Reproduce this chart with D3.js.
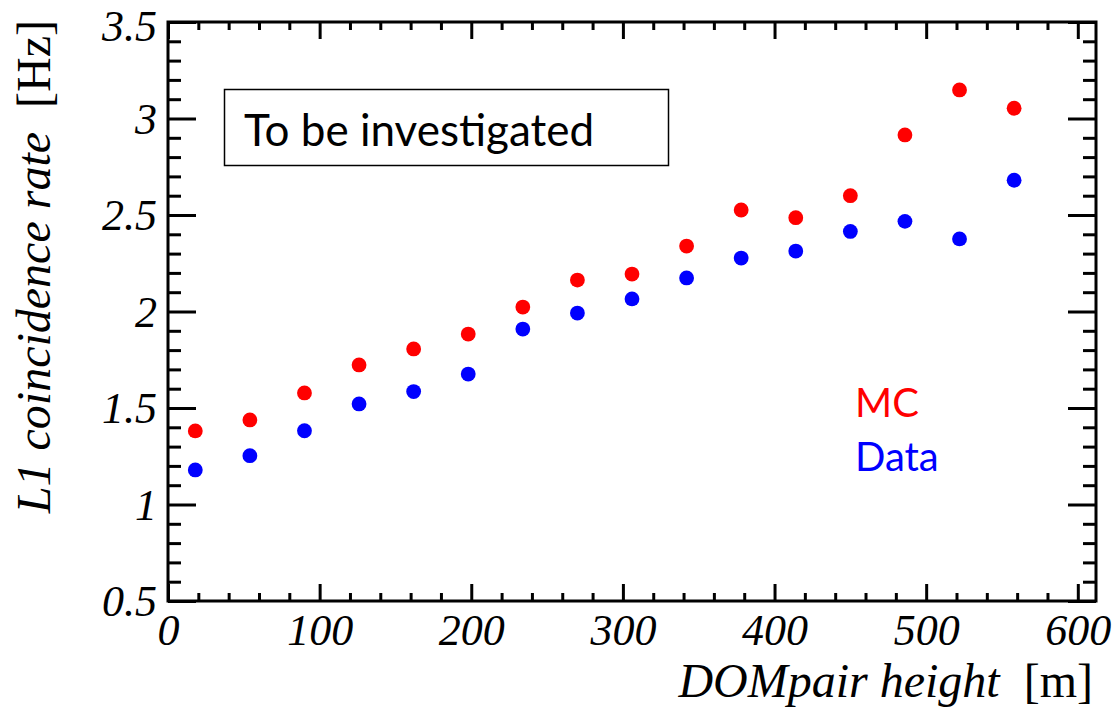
<!DOCTYPE html>
<html>
<head>
<meta charset="utf-8">
<script src="https://cdn.jsdelivr.net/npm/d3@7"></script>
<style>
  html, body { margin: 0; padding: 0; background: #fff; }
  svg { display: block; }
</style>
</head>
<body>
<svg id="chart" width="1116" height="708"></svg>
<script>
// ---- data ----
const heights = [18, 54, 90, 126, 162, 198, 234, 270, 306, 342, 378, 414, 450, 486, 522, 558];
const mcRate = [1.381, 1.438, 1.578, 1.723, 1.806, 1.883, 2.023, 2.163, 2.194, 2.339, 2.526, 2.486, 2.600, 2.915, 3.148, 3.053];
const dataRate = [1.179, 1.253, 1.382, 1.521, 1.585, 1.676, 1.909, 1.992, 2.065, 2.174, 2.277, 2.313, 2.415, 2.467, 2.376, 2.680];
const xMajorTicks = [0, 100, 200, 300, 400, 500, 600];
const yMajorTicks = [0.5, 1, 1.5, 2, 2.5, 3, 3.5];
const yTickLabels = ["0.5", "1", "1.5", "2", "2.5", "3", "3.5"];
const seriesNames = ["MC", "Data"];
const seriesColors = ["#ff0000", "#0000ff"];
const boxText = "To be investigated";
const xTitle = "DOMpair height";
const xUnit = "[m]";
const yTitle = "L1 coincidence rate";
const yUnit = "[Hz]";

// ---- layout ----
const L = 168, R = 1096, T = 22, B = 601;
const svg = d3.select("#chart");
const x = d3.scaleLinear().domain([0, 612]).range([L, R]);
const y = d3.scaleLinear().domain([0.5, 3.5]).range([B, T]);

const xMinor = d3.range(0, 620, 20).filter(v => v % 100 !== 0 && v <= 612);
const yMinor = d3.range(5, 36, 1).map(v => v / 10).filter(v => Math.abs(v * 2 - Math.round(v * 2)) > 1e-6);

const serif = "'Liberation Serif', 'Times New Roman', serif";
const sans = "Lato, 'Open Sans', sans-serif";

function styleAxis(g) {
  g.select(".domain").remove();
  g.selectAll(".tick line").attr("stroke", "#000").attr("stroke-width", 3);
}

// bottom
svg.append("g").attr("transform", `translate(0,${B})`)
  .call(d3.axisBottom(x).tickValues(xMinor).tickSizeInner(-8).tickSizeOuter(0).tickFormat(""))
  .call(styleAxis);
const xb = svg.append("g").attr("transform", `translate(0,${B})`)
  .call(d3.axisBottom(x).tickValues(xMajorTicks).tickSizeInner(-17).tickSizeOuter(0).tickFormat(d3.format("d")))
  .call(styleAxis);
xb.selectAll(".tick text")
  .attr("y", 44).attr("dy", null)
  .attr("font-family", serif).attr("font-style", "italic").attr("font-size", 44).attr("fill", "#000");

// top
svg.append("g").attr("transform", `translate(0,${T})`)
  .call(d3.axisTop(x).tickValues(xMinor).tickSizeInner(-8).tickSizeOuter(0).tickFormat(""))
  .call(styleAxis);
svg.append("g").attr("transform", `translate(0,${T})`)
  .call(d3.axisTop(x).tickValues(xMajorTicks).tickSizeInner(-17).tickSizeOuter(0).tickFormat(""))
  .call(styleAxis);

// left
svg.append("g").attr("transform", `translate(${L},0)`)
  .call(d3.axisLeft(y).tickValues(yMinor).tickSizeInner(-13).tickSizeOuter(0).tickFormat(""))
  .call(styleAxis);
const yl = svg.append("g").attr("transform", `translate(${L},0)`)
  .call(d3.axisLeft(y).tickValues(yMajorTicks).tickSizeInner(-28).tickSizeOuter(0)
    .tickFormat((d, i) => yTickLabels[i]))
  .call(styleAxis);
yl.selectAll(".tick text")
  .attr("x", -11).attr("dy", d => d === 3.5 ? "0.42em" : "0.34em")
  .attr("font-family", serif).attr("font-style", "italic").attr("font-size", 44).attr("fill", "#000");

// right
svg.append("g").attr("transform", `translate(${R},0)`)
  .call(d3.axisRight(y).tickValues(yMinor).tickSizeInner(-13).tickSizeOuter(0).tickFormat(""))
  .call(styleAxis);
svg.append("g").attr("transform", `translate(${R},0)`)
  .call(d3.axisRight(y).tickValues(yMajorTicks).tickSizeInner(-28).tickSizeOuter(0).tickFormat(""))
  .call(styleAxis);

// frame
svg.append("rect").attr("x", L).attr("y", T).attr("width", R - L).attr("height", B - T)
  .attr("fill", "none").attr("stroke", "#000").attr("stroke-width", 3);

// points
const series = [mcRate, dataRate];
series.forEach((vals, si) => {
  svg.append("g").selectAll("circle").data(vals).join("circle")
    .attr("cx", (d, i) => x(heights[i]))
    .attr("cy", d => y(d))
    .attr("r", 7.4)
    .attr("fill", seriesColors[si]);
});

// text box
svg.append("rect").attr("x", 224.5).attr("y", 89.5).attr("width", 444).attr("height", 76)
  .attr("fill", "#fff").attr("stroke", "#000").attr("stroke-width", 1.5);
svg.append("text").attr("x", 244).attr("y", 146).text(boxText)
  .attr("font-family", sans).attr("font-size", 44).attr("fill", "#000");

// legend text
seriesNames.forEach((n, i) => {
  svg.append("text").attr("x", 855).attr("y", 417 + i * 54).text(n)
    .attr("font-family", sans).attr("font-size", 40).attr("fill", seriesColors[i]);
});

// axis titles
const xt = svg.append("text").attr("x", 1093).attr("y", 697).attr("text-anchor", "end")
  .attr("font-family", serif).attr("font-size", 48).attr("fill", "#000");
xt.append("tspan").attr("font-style", "italic").text(xTitle);
xt.append("tspan").text("\u00a0\u00a0" + xUnit);

const yt = svg.append("text").attr("transform", "translate(50,20) rotate(-90)").attr("text-anchor", "end")
  .attr("font-family", serif).attr("font-size", 48).attr("fill", "#000");
yt.append("tspan").attr("font-style", "italic").text(yTitle);
yt.append("tspan").text("\u00a0\u00a0" + yUnit);
</script>
</body>
</html>
